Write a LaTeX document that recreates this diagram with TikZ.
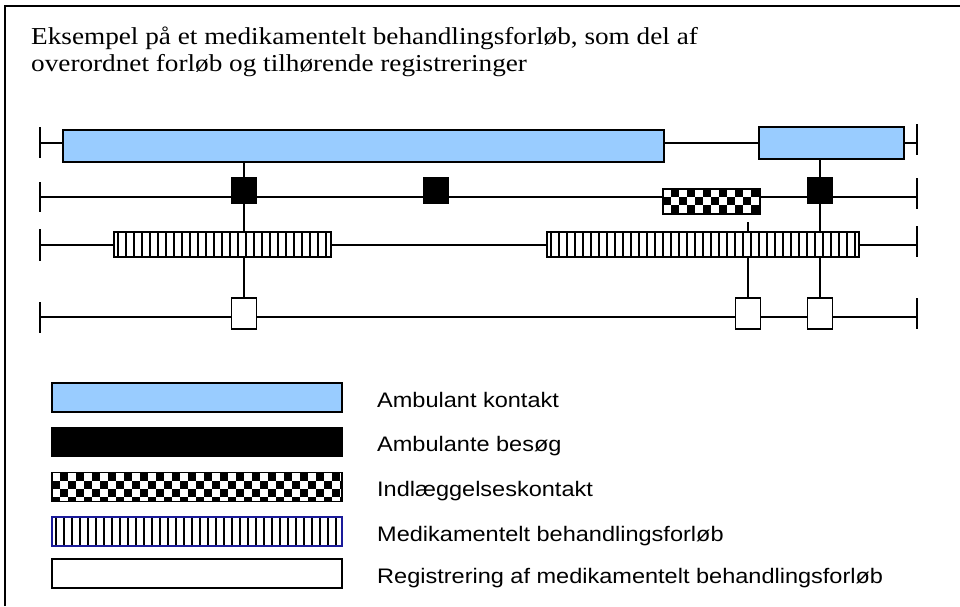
\documentclass[tikz,border=0pt]{standalone}
\usepackage{fontspec}
\setmainfont{Liberation Serif}
\newfontfamily\arialf{Liberation Sans}
\usetikzlibrary{backgrounds}
\definecolor{ambblue}{HTML}{99CCFF}
\definecolor{navyb}{HTML}{1A1A99}
\tikzset{
  tl/.style={line width=1.6pt},
  bx/.style={draw, line width=1.8pt, inner sep=0pt, outer sep=0pt, rectangle},
  amb/.style={bx, fill=ambblue},
  besog/.style={bx, fill=black},
  indl/.style={bx, fill=white, path picture={
    \foreach \i in {0,...,37} {\foreach \j in {0,...,4} {
      \pgfmathtruncatemacro\kk{mod(\i+\j,2)}
      \ifnum\kk=1
        \fill[black] ([xshift=\i*8pt, yshift=-\j*8pt]path picture bounding box.north west) rectangle ++(8pt,-8pt);
      \fi}}}},
  med/.style={bx, fill=white, path picture={
    \foreach \i in {0,...,40} {
      \fill[black] ([xshift=\i*8pt+3pt]path picture bounding box.north west) rectangle ([xshift=\i*8pt+5pt]path picture bounding box.south west);}}},
  reg/.style={bx, fill=white},
  sq/.style={minimum width=25pt, minimum height=25pt},
  lgbox/.style={minimum width=290pt, minimum height=29pt},
  lgtext/.style={anchor=base west, inner sep=0pt, font=\arialf\fontsize{21}{25}\selectfont},
  ttext/.style={anchor=base west, inner sep=0pt, font=\fontsize{24.3}{28}\selectfont},
}
\begin{document}
\begin{tikzpicture}[x=1pt,y=-1pt]
\useasboundingbox (0,0) rectangle (960,606);
\draw[line width=2pt] (5,606) -- (5,6) -- (960,6);
% title
\node[ttext] (t1) at (31,44) {\scalebox{1.12}[1]{Eksempel på et medikamentelt behandlingsforløb, som del af}};
\node[ttext] (t2) at (31,71) {\scalebox{1.12}[1]{overordnet forløb og tilhørende registreringer}};
% timelines
\coordinate (r1a) at (40,143); \coordinate (r1b) at (917,143);
\coordinate (r2a) at (40,197); \coordinate (r2b) at (917,197);
\coordinate (r3a) at (40,245); \coordinate (r3b) at (917,245);
\coordinate (r4a) at (40,317); \coordinate (r4b) at (917,317);
\draw[tl] (r1a) -- (r1b);
\draw[tl] (r1a) ++(0,-16) -- ++(0,31);
\draw[tl] (r1b) ++(0,-19) -- ++(0,31);
\draw[tl] (r2a) -- (r2b);
\draw[tl] (r2a) ++(0,-15) -- ++(0,30);
\draw[tl] (r2b) ++(0,-19) -- ++(0,31);
\draw[tl] (r3a) -- (r3b);
\draw[tl] (r3a) ++(0,-16) -- ++(0,32);
\draw[tl] (r3b) ++(0,-19) -- ++(0,31);
\draw[tl] (r4a) -- (r4b);
\draw[tl] (r4a) ++(0,-15) -- ++(0,31);
\draw[tl] (r4b) ++(0,-19) -- ++(0,31);
% row 1
\node[amb, minimum width=601pt, minimum height=32pt] (a1) at (363.5,146) {};
\node[amb, minimum width=145pt, minimum height=32pt] (a2) at (831.5,143) {};
% row 2
\node[besog, sq] (b1) at (244,190.5) {};
\node[besog, sq] (b2) at (436,190.5) {};
\node[besog, sq] (b3) at (820,190.5) {};
\node[indl, minimum width=97pt, minimum height=25pt] (i1) at (711.5,201.5) {};
% row 3
\node[med, minimum width=217pt, minimum height=25pt] (m1) at (222.5,244.5) {};
\node[med, minimum width=312pt, minimum height=25pt] (m2) at (703,244.5) {};
% row 4
\node[reg, minimum width=25pt, minimum height=31pt] (g1) at (244,313.5) {};
\node[reg, minimum width=25pt, minimum height=31pt] (g2) at (748,313.5) {};
\node[reg, minimum width=25pt, minimum height=31pt] (g3) at (820,313.5) {};
% connectors
\coordinate (c3top) at (748,222);
\begin{scope}[on background layer]
\draw[tl] (a1.south -| g1.north) -- (g1.north);
\draw[tl] (a2.south -| g3.north) -- (g3.north);
\draw[tl] (c3top) -- (g2.north);
\end{scope}
\draw[tl] (c3top) -- (m2.north -| g2.north);
% legend
\node[amb, lgbox] (l1) at (197,397.5) {};
\node[besog, lgbox] (l2) at (197,442) {};
\node[indl, lgbox] (l3) at (197,487) {};
\node[med, lgbox, draw=navyb] (l4) at (197,531.5) {};
\node[reg, lgbox] (l5) at (197,573.5) {};
\node[lgtext] (lt1) at (377,407) {\scalebox{1.12}[1]{Ambulant kontakt}};
\node[lgtext] (lt2) at (377,451.5) {\scalebox{1.12}[1]{Ambulante besøg}};
\node[lgtext] (lt3) at (377,496.5) {\scalebox{1.12}[1]{Indlæggelseskontakt}};
\node[lgtext] (lt4) at (377,541) {\scalebox{1.12}[1]{Medikamentelt behandlingsforløb}};
\node[lgtext] (lt5) at (377,583) {\scalebox{1.12}[1]{Registrering af medikamentelt behandlingsforløb}};
\end{tikzpicture}
\end{document}
